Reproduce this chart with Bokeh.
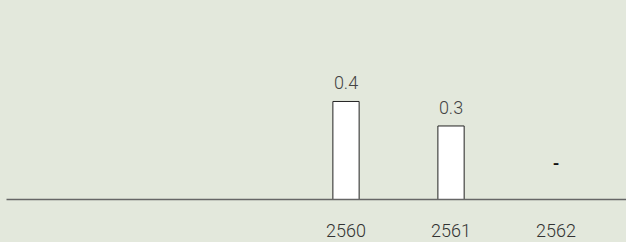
from bokeh.plotting import figure
from bokeh.models import ColumnDataSource, FixedTicker, Range1d
from bokeh.core.properties import value
from bokeh.embed import file_html
from bokeh.resources import INLINE

years = [2560, 2561, 2562]
values = [0.4, 0.3, None]
labels = ["0.4", "0.3", "-"]
tick_labels = {2560: "2560", 2561: "2561", 2562: "2562"}

BG = "#e3e8dc"
FONT = "Roboto Light, Roboto"

bar_years = [y for y, v in zip(years, values) if v is not None]
bar_vals = [v for v in values if v is not None]
bar_labels = [l for l, v in zip(labels, values) if v is not None]
miss_years = [y for y, v in zip(years, values) if v is None]
miss_labels = [l for l, v in zip(labels, values) if v is None]

p = figure(frame_width=620, frame_height=199, output_backend="svg",
           toolbar_location=None,
           x_range=Range1d(2556.767, 2562.671), y_range=Range1d(0, 0.812),
           min_border_left=6, min_border_right=0, min_border_top=0,
           min_border_bottom=0)
p.background_fill_color = BG
p.border_fill_color = BG
p.outline_line_color = None
p.grid.visible = False
p.yaxis.visible = False

src = ColumnDataSource(dict(x=bar_years, top=bar_vals, label=bar_labels))
p.vbar(x="x", top="top", bottom=0, width=0.25, source=src,
       fill_color="white", line_color="#222222", line_width=1)
p.text(x="x", y="top", text="label", source=src, y_offset=-12,
       text_align="center", text_baseline="bottom",
       text_font=value(FONT), text_font_size="18px", text_color="#444444")

msrc = ColumnDataSource(dict(x=miss_years, y=[0] * len(miss_years), label=miss_labels))
p.text(x="x", y="y", text="label", source=msrc, y_offset=-37,
       text_align="center", text_baseline="middle",
       text_font=value("Roboto"), text_font_size="17px",
       text_font_style="bold", text_color="#111111")

ax = p.xaxis[0]
ax.ticker = FixedTicker(ticks=years)
ax.major_label_overrides = tick_labels
ax.axis_line_color = "#666666"
ax.axis_line_width = 1.5
ax.major_tick_line_color = None
ax.minor_tick_line_color = None
ax.major_tick_out = 0
ax.major_tick_in = 0
ax.major_label_standoff = 24
ax.major_label_text_font = FONT
ax.major_label_text_font_size = "18px"
ax.major_label_text_color = "#333333"

tmpl = """{% block preamble %}<style>html,body{margin:0 !important;padding:0;background:""" + BG + """;overflow:hidden;}</style>{% endblock %}"""

open("out.html", "w").write(file_html(p, INLINE, template=tmpl))
